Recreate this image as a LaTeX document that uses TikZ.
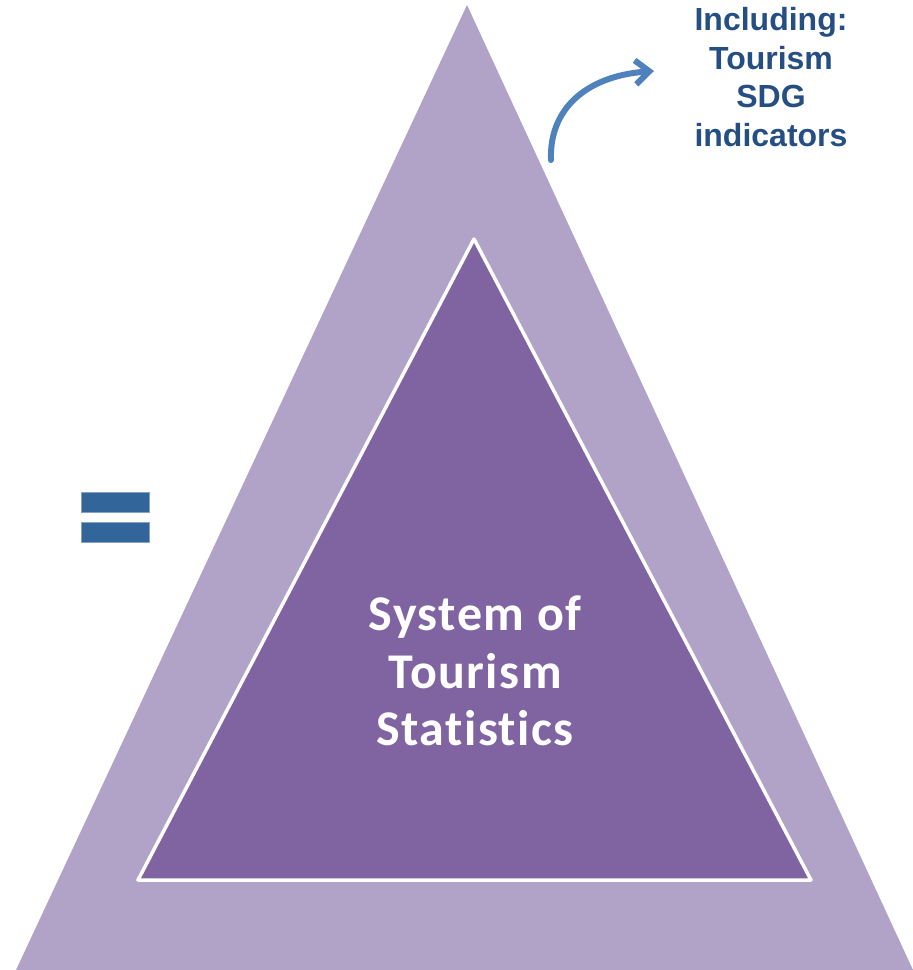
\documentclass[tikz,border=0pt]{standalone}
\usepackage{fontspec}
\setmainfont{Liberation Sans}
\newfontfamily\calib[Ligatures=NoCommon,LetterSpace=3]{Carlito}
\usetikzlibrary{arrows.meta}
\definecolor{outerv}{HTML}{B1A2C8}
\definecolor{innerv}{HTML}{8064A2}
\definecolor{arrowb}{HTML}{4F81BD}
\definecolor{textb}{HTML}{254E82}
\definecolor{eqb}{HTML}{32659A}
\tikzset{
  eqbar/.style={fill=eqb, draw=eqb!60!white, line width=0.8pt},
  curvearrow/.style={draw=arrowb, line width=6pt, line cap=round, -{Straight Barb[length=14pt,width=24pt,line width=6pt]}},
}
\begin{document}
\begin{tikzpicture}[x=1pt,y=-1pt]
\useasboundingbox (0,0) rectangle (913,970);
% outer triangle
\fill[outerv] (467,5) -- (913,970) -- (16,970) -- cycle;
% inner triangle
\draw[fill=innerv, draw=white, line width=3.5pt, line join=round] (474,239) -- (811,880) -- (138,880) -- cycle;
% equals sign
\draw[eqbar] (81,492) rectangle (149,512);
\draw[eqbar] (81,522) rectangle (149,542);
% label
\node[text=textb, font=\bfseries\fontsize{32}{38.5}\selectfont, align=center] (lbl) at (771,77) {Including:\\Tourism\\SDG\\indicators};
\node[text=white, font=\calib\bfseries\fontsize{50}{57.5}\selectfont, align=center] (main) at (475,671) {System of\\Tourism\\Statistics};
% arrow
\coordinate (as) at (551,160);
\coordinate (ae) at (654,71);
\draw[curvearrow] (as) .. controls (549,110) and (585,76) .. (ae);
\end{tikzpicture}
\end{document}
